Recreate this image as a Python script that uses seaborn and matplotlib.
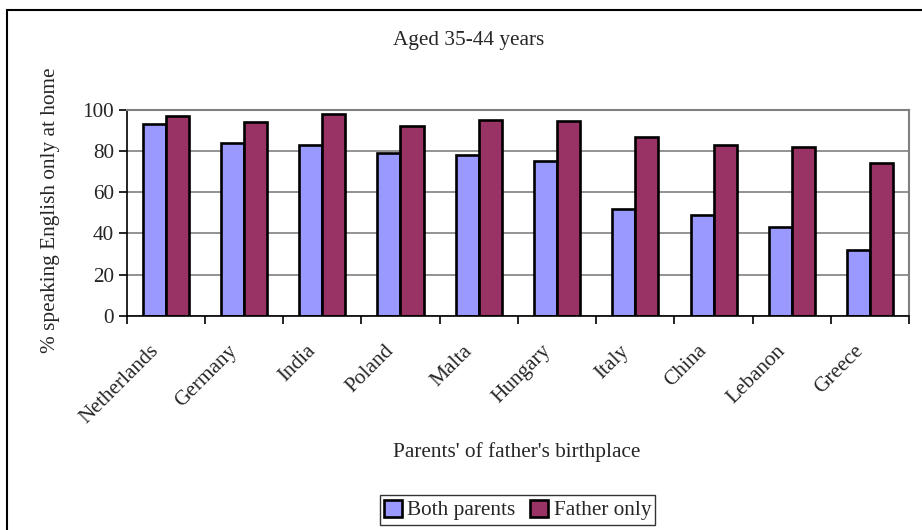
import matplotlib
matplotlib.use("Agg")
import matplotlib.pyplot as plt
import matplotlib.transforms as mtransforms
import seaborn as sns
import pandas as pd
from matplotlib.patches import Rectangle, Patch

# Data
countries = ["Netherlands", "Germany", "India", "Poland", "Malta",
             "Hungary", "Italy", "China", "Lebanon", "Greece"]
both_parents = [93, 84, 83, 79, 78, 75, 52, 49, 43, 32]
father_only = [97, 94, 98, 92, 95, 94.5, 87, 83, 82, 74]
series_names = ["Both parents", "Father only"]
yticks = [0, 20, 40, 60, 80, 100]

title = "Aged 35-44 years"
xlabel = "Parents' of father's birthplace"
ylabel = "% speaking English only at home"

colors = ["#9999FF", "#993366"]
FS = 15.3

df = pd.DataFrame({
    "country": countries * 2,
    "value": both_parents + father_only,
    "series": [series_names[0]] * len(countries) + [series_names[1]] * len(countries),
})

sns.set_theme(style="white")
plt.rcParams["font.family"] = ["Liberation Serif", "DejaVu Serif"]

fig = plt.figure(figsize=(9.22, 5.30), dpi=100)
W, H = 922, 530
ax = fig.add_axes([126.5 / W, 1 - 316 / H, (909.3 - 126.5) / W, (316 - 109.7) / H])

sns.barplot(data=df, x="country", y="value", hue="series", order=countries,
            hue_order=series_names, palette=colors, width=0.59, gap=0,
            edgecolor="black", linewidth=1.9, saturation=1, ax=ax, legend=False)

ax.set_ylim(0, 100)
ax.set_xlim(-0.5, len(countries) - 0.5)
ax.set_yticks(yticks)
ax.set_yticklabels([str(v) for v in yticks], fontsize=FS)
ax.yaxis.grid(True, color="#808080", linewidth=1.2)
ax.set_axisbelow(True)

# ticks at category boundaries, labels at centres
ax.set_xticks([i for i in range(len(countries))])
ax.set_xticklabels(countries, rotation=45, ha="right", va="top",
                   rotation_mode="anchor", fontsize=FS)
ax.tick_params(axis="x", which="major", length=0, pad=14)
shift = mtransforms.ScaledTranslation(-16 / 100, -6 / 100, fig.dpi_scale_trans)
for lbl in ax.get_xticklabels():
    lbl.set_transform(lbl.get_transform() + shift)
ax.set_xticks([i - 0.5 for i in range(len(countries) + 1)], minor=True)
ax.tick_params(axis="x", which="minor", length=6, width=1.2, color="black",
               direction="out", bottom=True)
ax.tick_params(axis="y", length=6, width=1.2, color="black", direction="out",
               left=True, pad=3)

for side in ["left", "bottom"]:
    ax.spines[side].set_color("black")
    ax.spines[side].set_linewidth(1.2)
for side in ["top", "right"]:
    ax.spines[side].set_visible(True)
    ax.spines[side].set_color("#808080")
    ax.spines[side].set_linewidth(1.5)

ax.set_xlabel("")
ax.set_ylabel("")
fig.text(468.5 / W, 1 - 41 / H, title, ha="center", va="center", fontsize=FS)
fig.text(517 / W, 1 - 452 / H, xlabel, ha="center", va="center", fontsize=FS)
fig.text(50 / W, 1 - 210 / H, ylabel, ha="center", va="center",
         rotation=90, fontsize=FS)

handles = [Patch(facecolor=c, edgecolor="black", linewidth=1.9) for c in colors]
leg = fig.legend(handles, series_names, loc="center", ncol=2,
                 bbox_to_anchor=(517.5 / W, 1 - 510 / H), fontsize=FS,
                 frameon=True, fancybox=False, handlelength=0.85,
                 handleheight=0.85, handletextpad=0.25, columnspacing=0.7,
                 borderpad=0.2)
leg.get_frame().set_edgecolor("black")
leg.get_frame().set_linewidth(1.0)

# outer chart frame
fig.patches.append(Rectangle((7 / W, -0.05), 1.2, 1 - 10 / H + 0.05,
                             transform=fig.transFigure, fill=False,
                             edgecolor="black", linewidth=1.5))

fig.savefig("out.png", dpi=100)
